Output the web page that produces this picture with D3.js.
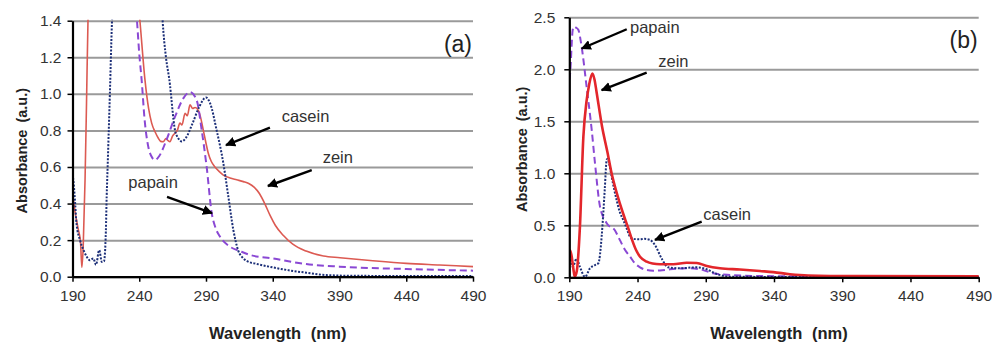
<!DOCTYPE html>
<html>
<head>
<meta charset="utf-8">
<script src="https://cdn.jsdelivr.net/npm/d3@7"></script>
<style>
  body { margin: 0; background: #fff; }
  svg { display: block; font-family: Arial, "Liberation Sans", sans-serif; }
</style>
</head>
<body>
<svg id="chart"></svg>
<script>
// wavelength (nm), absorbance (a.u.)
const xTicks = [190, 240, 290, 340, 390, 440, 490];
const yTicksA = [0, 0.2, 0.4, 0.6, 0.8, 1.0, 1.2, 1.4];
const yTicksB = [0, 0.5, 1.0, 1.5, 2.0, 2.5];

// panel (a) - values above 1.4 run off the top and get clipped
const caseinA = [[190,0.56],[190.6,0.53],[192,0.40],[193,0.29],[195.6,0.20],[198.6,0.14],[200.6,0.11],[203,0.09],[205.6,0.10],
  [207.6,0.065],[210,0.145],[212,0.08],[213.6,0.085],[215,0.25],[215.6,0.44],[216,0.53],[218,1.0],[219.6,1.4],[221,1.6],
  [256,1.6],[257.5,1.4],[260,1.2],[262.5,1.08],[266.8,0.80],[269,0.76],[271.8,0.74],[275,0.76],[280,0.84],[285,0.93],
  [290,0.98],[293,0.95],[298,0.80],[303,0.62],[306.7,0.44],[310.5,0.255],[314,0.146],[318,0.10],[321.7,0.082],[328,0.07],
  [340,0.051],[352,0.035],[365,0.022],[380,0.009],[400,0.005],[440,0.004],[490,0.004]];
const papainA = [[190,1.6],[236,1.6],[238.3,1.4],[240,1.22],[241.8,1.075],[244,0.86],[246.8,0.71],[249,0.66],[251.8,0.638],
  [255,0.66],[260.5,0.75],[266.8,0.875],[273,0.975],[278,1.01],[283,0.966],[286.8,0.80],[290.5,0.60],[294.3,0.347],
  [297,0.27],[300.5,0.219],[308,0.164],[315.5,0.14],[323,0.119],[340,0.10],[365,0.069],[390,0.055],[440,0.042],[490,0.033]];
const zeinA = [[190,0.42],[190.6,0.42],[191.8,0.36],[193,0.31],[194.3,0.26],[196,0.19],[197,0.05],[198,0.16],[199.4,0.53],
  [200.5,0.95],[201.6,1.4],[203,1.6],[238,1.6],[240.5,1.4],[244.3,1.075],[247,0.92],[249.3,0.84],[252,0.79],[254.3,0.757],
  [256,0.74],[258,0.738],[260,0.755],[261.5,0.745],[263,0.738],[265,0.77],[266.8,0.785],[268.5,0.80],[270.5,0.84],[272,0.83],
  [274.3,0.894],[276,0.88],[278,0.94],[280,0.92],[281.8,0.925],[284.2,0.91],[286,0.87],[288,0.80],[290,0.73],[291.7,0.675],
  [294,0.63],[296.7,0.60],[300,0.575],[303,0.556],[308,0.54],[313,0.53],[318,0.52],[322,0.51],[326,0.49],[330,0.455],
  [334,0.40],[338,0.335],[342,0.28],[348,0.225],[355,0.178],[365,0.14],[378,0.113],[390.4,0.104],[415,0.0875],[440,0.073],
  [465,0.064],[490,0.055]];

// panel (b)
const caseinB = [[190,0.2],[190.5,0.198],[192.5,0.10],[195.4,0.18],[197.8,0.10],[201.5,0.005],[205.2,0.087],[208.8,0.118],
  [211.3,0.135],[213.7,0.39],[214.9,0.615],[216,0.85],[217.4,1.13],[218.1,1.14],[219.5,1.08],[221,0.97],[224.7,0.74],
  [227.2,0.62],[229.6,0.55],[232,0.47],[234.5,0.39],[237,0.37],[241.8,0.365],[245,0.37],[249.1,0.36],[252.8,0.31],
  [257.7,0.18],[262.5,0.096],[271,0.087],[283.4,0.096],[290.7,0.077],[298,0.032],[307.8,0.006],[330,0.004],[490,0.004]];
const papainB = [[190,1.9],[190.5,1.945],[192.5,2.38],[193.4,2.41],[195,2.40],[196.6,2.38],[199,2.22],[202.7,1.83],
  [206.4,1.42],[208.8,1.10],[212.5,0.68],[217.4,0.52],[223.5,0.45],[227,0.36],[231,0.26],[234.5,0.20],[238,0.135],
  [241.8,0.096],[246.7,0.07],[251.5,0.063],[256.5,0.066],[263.8,0.077],[276,0.087],[285.8,0.077],[295.5,0.038],
  [307.8,0.022],[330,0.012],[390,0.008],[490,0.006]];
const zeinB = [[190,0.24],[190.5,0.26],[191.5,0.22],[193,0.08],[194,0.005],[195.5,0.06],[197.8,0.49],[200.3,1.35],
  [202.7,1.70],[204.5,1.85],[206.9,1.96],[208.5,1.90],[210,1.78],[214,1.45],[218,1.20],[221,1.0],[225,0.80],[229,0.63],
  [233,0.48],[236,0.36],[239,0.26],[242,0.195],[246.7,0.15],[251,0.133],[256.5,0.126],[266.2,0.126],[276,0.14],
  [283.4,0.138],[290.7,0.109],[300.4,0.087],[315,0.075],[329.7,0.06],[339.5,0.05],[351.7,0.03],[365,0.018],[400,0.012],
  [490,0.01]];

// label text and where it sits (data units): text point, arrow start, arrow tip
const notesA = [
  { label: 'casein', at: [346.7, 0.848], from: [337.9, 0.815], to: [305, 0.72] },
  { label: 'zein', at: [377.4, 0.62], from: [369.2, 0.583], to: [336.4, 0.496] },
  { label: 'papain', at: [231.8, 0.485], from: [260.8, 0.436], to: [294.5, 0.348] }
];
const notesB = [
  { label: 'papain', at: [234.5, 2.35], from: [232.1, 2.385], to: [199.1, 2.20] },
  { label: 'zein', at: [255.2, 2.025], from: [246.7, 1.967], to: [213.7, 1.80] },
  { label: 'casein', at: [288.2, 0.55], from: [287, 0.535], to: [252.8, 0.359] }
];

const svg = d3.select('#chart').attr('width', 992).attr('height', 344);

svg.append('defs').append('marker')
  .attr('id', 'arrow')
  .attr('viewBox', '0 0 10 10')
  .attr('refX', 9).attr('refY', 5)
  .attr('markerWidth', 4.2).attr('markerHeight', 4.2)
  .attr('markerUnits', 'strokeWidth')
  .attr('orient', 'auto')
  .append('path')
  .attr('d', 'M0,0 L10,5 L0,10 z')
  .attr('fill', '#000');

function drawPanel(p) {
  const x = d3.scaleLinear().domain([190, 490]).range([p.left, p.right]);
  const y = d3.scaleLinear().domain([0, p.yMax]).range([p.bottom, p.top]);
  const g = svg.append('g');

  // grid
  g.append('g')
    .attr('transform', `translate(${p.left},0)`)
    .call(d3.axisLeft(y).tickValues(p.yTicks).tickSize(-(p.right - p.left)).tickFormat(''))
    .call(s => s.select('.domain').remove())
    .call(s => s.selectAll('line').attr('stroke', '#9a9a9a').attr('stroke-width', 2));

  // curves
  g.append('clipPath').attr('id', 'clip' + p.name)
    .append('rect')
    .attr('x', p.left).attr('y', p.top - 1)
    .attr('width', p.right - p.left + 2).attr('height', p.bottom - p.top + 2);

  const line = d3.line()
    .x(d => x(d[0]))
    .y(d => y(d[1]))
    .curve(d3.curveMonotoneX);

  const curves = g.append('g').attr('clip-path', `url(#clip${p.name})`);
  p.series.forEach(s => {
    curves.append('path')
      .datum(s.data)
      .attr('fill', 'none')
      .attr('stroke', s.color)
      .attr('stroke-width', s.width)
      .attr('stroke-dasharray', s.dash)
      .attr('stroke-linejoin', 'round')
      .attr('d', line);
  });

  // axes
  g.append('g')
    .attr('transform', `translate(0,${p.bottom})`)
    .call(d3.axisBottom(x).tickValues(xTicks).tickSize(5).tickSizeOuter(0).tickPadding(8))
    .call(s => s.select('.domain').attr('stroke', '#000').attr('stroke-width', 2.2))
    .call(s => s.selectAll('line').attr('stroke', '#000').attr('stroke-width', 1.5))
    .call(s => s.selectAll('text').attr('font-size', 15.5).attr('fill', '#333').attr('font-family', null));

  g.append('g')
    .attr('transform', `translate(${p.left},0)`)
    .call(d3.axisLeft(y).tickValues(p.yTicks).tickSize(5).tickSizeOuter(0).tickPadding(p.yPad).tickFormat(d3.format('.1f')))
    .call(s => s.select('.domain').attr('stroke', '#000').attr('stroke-width', 2.2))
    .call(s => s.selectAll('line').attr('stroke', '#000').attr('stroke-width', 1.5))
    .call(s => s.selectAll('text').attr('font-size', 15.5).attr('fill', '#333').attr('font-family', null));

  // titles
  g.append('text')
    .attr('x', (p.left + p.right) / 2 + 5)
    .attr('y', 339)
    .attr('text-anchor', 'middle')
    .attr('font-size', 16.5)
    .attr('font-weight', 'bold')
    .attr('fill', '#222')
    .attr('word-spacing', 5)
    .text('Wavelength (nm)');

  g.append('text')
    .attr('transform', `translate(${p.titleX},${(p.top + p.bottom) / 2 + 2}) rotate(-90)`)
    .attr('text-anchor', 'middle')
    .attr('font-size', 14.5)
    .attr('font-weight', 'bold')
    .attr('fill', '#222')
    .attr('word-spacing', 3)
    .text('Absorbance (a.u.)');

  g.append('text')
    .attr('x', x(490) - 1)
    .attr('y', p.top + 31)
    .attr('text-anchor', 'end')
    .attr('font-size', 23)
    .attr('fill', '#222')
    .text(p.tag);

  // annotations
  p.notes.forEach(n => {
    g.append('line')
      .attr('x1', x(n.from[0])).attr('y1', y(n.from[1]))
      .attr('x2', x(n.to[0])).attr('y2', y(n.to[1]))
      .attr('stroke', '#000')
      .attr('stroke-width', 2.4)
      .attr('marker-end', 'url(#arrow)');
    g.append('text')
      .attr('x', x(n.at[0])).attr('y', y(n.at[1]))
      .attr('font-size', 16.5)
      .attr('fill', '#333')
      .text(n.label);
  });
}

drawPanel({
  name: 'A', tag: '(a)', left: 72.5, right: 473, top: 20.7, bottom: 276.7,
  yMax: 1.4, yTicks: yTicksA, yPad: 6, titleX: 27, notes: notesA,
  series: [
    { data: zeinA, color: '#dc5a52', width: 1.6, dash: null },
    { data: papainA, color: '#8a48d4', width: 2, dash: '7,4' },
    { data: caseinA, color: '#1c2f78', width: 2, dash: '2,1.5' }
  ]
});

drawPanel({
  name: 'B', tag: '(b)', left: 569.3, right: 978.7, top: 17.3, bottom: 277.3,
  yMax: 2.5, yTicks: yTicksB, yPad: 9, titleX: 527, notes: notesB,
  series: [
    { data: papainB, color: '#8a48d4', width: 2, dash: '7,4' },
    { data: caseinB, color: '#1c2f78', width: 2, dash: '2,1.5' },
    { data: zeinB, color: '#e3262b', width: 2.6, dash: null }
  ]
});
</script>
</body>
</html>
